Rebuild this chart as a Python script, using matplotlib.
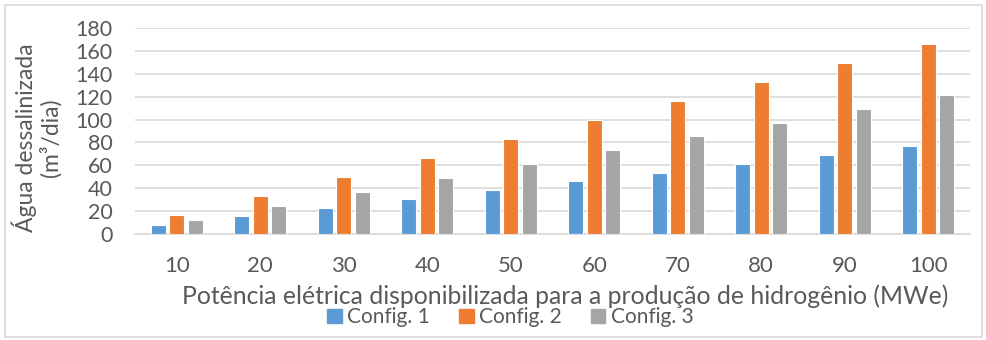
import matplotlib
matplotlib.use("Agg")
import matplotlib.pyplot as plt
import matplotlib.patches as mpatches
import numpy as np

plt.rcParams["font.family"] = ["Lato", "DejaVu Sans"]

TEXT = "#595959"
GRID = "#D9D9D9"
BLUE = "#5B9BD5"
ORANGE = "#ED7D31"
GRAY = "#A5A5A5"

potencia = ["10", "20", "30", "40", "50", "60", "70", "80", "90", "100"]
config1 = [7.7, 15.4, 23.0, 30.7, 38.4, 46.0, 53.7, 61.4, 69.0, 76.7]
config2 = [16.6, 33.3, 49.9, 66.5, 83.2, 99.8, 116.5, 133.1, 149.7, 166.4]
config3 = [12.2, 24.4, 36.5, 48.7, 60.9, 73.1, 85.2, 97.4, 109.6, 121.8]
series_names = ["Config. 1", "Config. 2", "Config. 3"]

fig = plt.figure(figsize=(9.87, 3.4), dpi=100)
fig.patch.set_facecolor("white")
ax = fig.add_axes([0.1368, 0.3118, 0.8460, 0.6058])

x = np.arange(len(potencia))
w = 0.18
step = 0.224
for i, (vals, col) in enumerate(zip([config1, config2, config3], [BLUE, ORANGE, GRAY])):
    ax.bar(x + (i - 1) * step, vals, w, color=col, edgecolor="white",
           linewidth=0.8, label=series_names[i], zorder=3)

ax.set_xlim(-0.5, len(potencia) - 0.5)
ax.set_ylim(0, 180)
ax.set_yticks(range(0, 181, 20))
ax.yaxis.grid(True, color=GRID, linewidth=1.2, zorder=0)
ax.set_axisbelow(True)
for sp in ("top", "right", "left"):
    ax.spines[sp].set_visible(False)
ax.spines["bottom"].set_color(GRID)
ax.spines["bottom"].set_linewidth(1.2)
ax.tick_params(axis="both", length=0, colors=TEXT)
ax.tick_params(axis="x", pad=16, labelsize=16)
ax.tick_params(axis="y", pad=16, labelsize=15.5)
ax.set_xticks(x)
ax.set_xticklabels(potencia)

ax.set_xlabel("Potência elétrica disponibilizada para a produção de hidrogênio (MWe)",
              fontsize=17.8, color=TEXT)
ax.xaxis.set_label_coords(0.515, -0.245)
ax.set_ylabel("Água dessalinizada\n(m³/dia)", fontsize=16.5, color=TEXT,
              linespacing=1.1)
ax.yaxis.set_label_coords(-0.088, 0.466)

handles = [mpatches.Patch(color=c, label=n) for c, n in zip([BLUE, ORANGE, GRAY], series_names)]
fig.legend(handles=handles, loc="center", bbox_to_anchor=(0.517, 0.067), ncol=3,
           frameon=False, fontsize=15, labelcolor=TEXT, handlelength=0.7,
           handleheight=0.7, handletextpad=0.25, columnspacing=1.4)

fig.patches.append(mpatches.Rectangle((0.005, 0.008), 0.99, 0.977, transform=fig.transFigure,
                                      fill=False, edgecolor=GRID, linewidth=1.2))

fig.savefig("out.png", dpi=100, facecolor="white")
